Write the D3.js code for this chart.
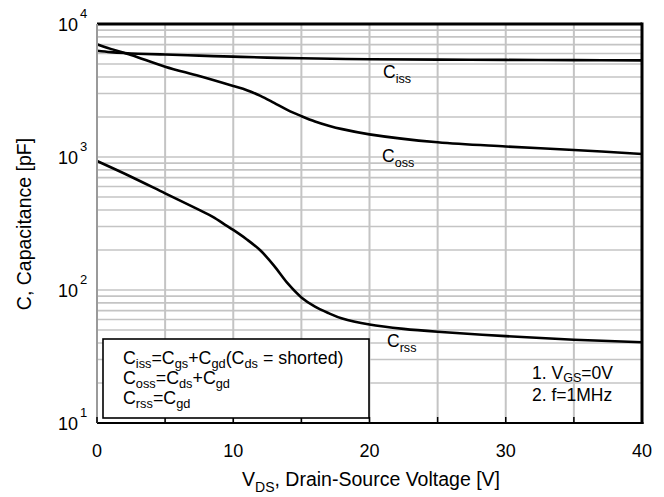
<!DOCTYPE html>
<html><head><meta charset="utf-8">
<script src="https://cdn.jsdelivr.net/npm/d3@7"></script>
<style>
html,body{margin:0;padding:0;background:#fff;}
svg{display:block;font-family:"Liberation Sans",Arial,sans-serif;}
</style></head>
<body>
<svg id="chart" width="664" height="497"></svg>
<script>
// ---- data ----
const vds = [0, 1, 2, 3, 5, 7.5, 10, 12.5, 15, 20, 25, 30, 35, 40];
const cissValues = [6300, 6150, 6050, 5980, 5900, 5780, 5680, 5590, 5520, 5430, 5400, 5370, 5350, 5330];

const vdsCoss = [0, 1, 2.5, 5, 7.5, 10, 11, 12, 13, 14, 15, 16, 17, 18, 20, 25, 30, 35, 40];
const cossValues = [7040, 6500, 5850, 4775, 4065, 3420, 3180, 2880, 2550, 2250, 2030, 1850, 1720, 1620, 1480, 1290, 1200, 1130, 1054];

const vdsCrss = [0, 2.5, 5, 7.5, 8.5, 9.5, 10, 11, 12, 13, 14, 15, 16, 17, 18, 20, 22.5, 25, 30, 35, 40];
const crssValues = [933, 711, 533, 400, 355, 305, 283, 240, 198, 152, 112, 88, 75, 67, 61, 55, 51, 48.5, 45, 42.3, 40.5];

const xTicks = [0, 10, 20, 30, 40];
const xGrid = [0, 5, 10, 15, 20, 25, 30, 35, 40];
const yDecades = [10, 100, 1000, 10000];
const yExponents = ["1", "2", "3", "4"];

// ---- layout ----
const svg = d3.select("#chart");
const x = d3.scaleLinear().domain([0, 40]).range([97, 642]);
const y = d3.scaleLog().domain([10, 10000]).range([423, 24]);

const yGrid = [];
for (let d = 10; d < 10000; d *= 10) for (let m = 1; m <= 9; m++) yGrid.push(d * m);
yGrid.push(10000);

const grid = svg.append("g");
grid.selectAll("line.h").data(yGrid).enter().append("line")
  .attr("x1", x(0)).attr("x2", x(40))
  .attr("y1", d => y(d)).attr("y2", d => y(d))
  .attr("stroke", "#c4c4c4").attr("stroke-width", 1.6);
grid.selectAll("line.v").data(xGrid).enter().append("line")
  .attr("x1", d => x(d)).attr("x2", d => x(d))
  .attr("y1", y(10000)).attr("y2", y(10))
  .attr("stroke", "#c4c4c4").attr("stroke-width", 2);

// curves
const line = d3.line().curve(d3.curveCatmullRom.alpha(0.5));
function drawCurve(xs, vs) {
  svg.append("path")
    .attr("d", line(xs.map((v, i) => [x(v), y(vs[i])])))
    .attr("fill", "none").attr("stroke", "#000").attr("stroke-width", 2.6);
}
drawCurve(vds, cissValues);
drawCurve(vdsCoss, cossValues);
drawCurve(vdsCrss, crssValues);

// frame
svg.append("line").attr("x1", x(0)).attr("x2", x(40)).attr("y1", y(10000)).attr("y2", y(10000))
  .attr("stroke", "#000").attr("stroke-width", 3);
svg.append("line").attr("x1", x(40)).attr("x2", x(40)).attr("y1", y(10000) - 1.5).attr("y2", y(10) + 1)
  .attr("stroke", "#000").attr("stroke-width", 3);
svg.append("line").attr("x1", x(0)).attr("x2", x(40) + 1.5).attr("y1", y(10)).attr("y2", y(10))
  .attr("stroke", "#000").attr("stroke-width", 2.2);
svg.append("line").attr("x1", x(0)).attr("x2", x(0)).attr("y1", y(10000)).attr("y2", y(10))
  .attr("stroke", "#9a9a9a").attr("stroke-width", 2);

svg.selectAll("line.bt").data(xGrid).enter().append("line")
  .attr("x1", d => x(d)).attr("x2", d => x(d))
  .attr("y1", y(10)).attr("y2", y(10) - 6)
  .attr("stroke", "#000").attr("stroke-width", 1.5);

function rich(g, px, py, segs, size, anchor, subShift) {
  const ss = subShift === undefined ? 0.3 : subShift;
  const t = g.append("text").attr("x", px).attr("y", py)
    .attr("font-size", size).attr("fill", "#000").attr("text-anchor", anchor || "start");
  let shift = 0;
  segs.forEach(([s, mode]) => {
    const target = mode === "sub" ? size * ss : mode === "sup" ? -size * 0.45 : 0;
    t.append("tspan").attr("dy", target - shift)
      .attr("font-size", mode ? size * 0.72 : size).text(s);
    shift = target;
  });
  return t;
}

xTicks.forEach(v => {
  svg.append("text").attr("x", x(v)).attr("y", 457).attr("text-anchor", "middle")
    .attr("font-size", 18).text(v);
});
yDecades.forEach((v, i) => {
  svg.append("text").attr("x", 78).attr("y", y(v) + 7).attr("text-anchor", "end")
    .attr("font-size", 18).text("10");
  svg.append("text").attr("x", 80).attr("y", y(v) - 6).attr("font-size", 13).text(yExponents[i]);
});

rich(svg, 371, 486, [["V", null], ["DS", "sub"], [", Drain-Source Voltage [V]", null]], 19.5, "middle");
svg.append("text").attr("transform", "translate(31,224) rotate(-90)")
  .attr("text-anchor", "middle").attr("font-size", 19.5).text("C, Capacitance [pF]");

rich(svg, 383, 78, [["C", null], ["iss", "sub"]], 17.5);
rich(svg, 382, 162, [["C", null], ["oss", "sub"]], 17.5);
rich(svg, 387, 347, [["C", null], ["rss", "sub"]], 17.5);

svg.append("rect").attr("x", 103).attr("y", 339).attr("width", 266).attr("height", 79)
  .attr("fill", "#fff").attr("stroke", "#000").attr("stroke-width", 1.6);
rich(svg, 123, 364, [["C", null], ["iss", "sub"], ["=C", null], ["gs", "sub"], ["+C", null], ["gd", "sub"], ["(C", null], ["ds", "sub"], [" = shorted)", null]], 17.8, "start", 0.22);
rich(svg, 123, 384, [["C", null], ["oss", "sub"], ["=C", null], ["ds", "sub"], ["+C", null], ["gd", "sub"]], 17.8, "start", 0.22);
rich(svg, 123, 404, [["C", null], ["rss", "sub"], ["=C", null], ["gd", "sub"]], 17.8, "start", 0.22);

rich(svg, 532, 379, [["1. V", null], ["GS", "sub"], ["=0V", null]], 17.5, "start", 0.15);
rich(svg, 532, 401, [["2. f=1MHz", null]], 17.5);
</script>
</body></html>
